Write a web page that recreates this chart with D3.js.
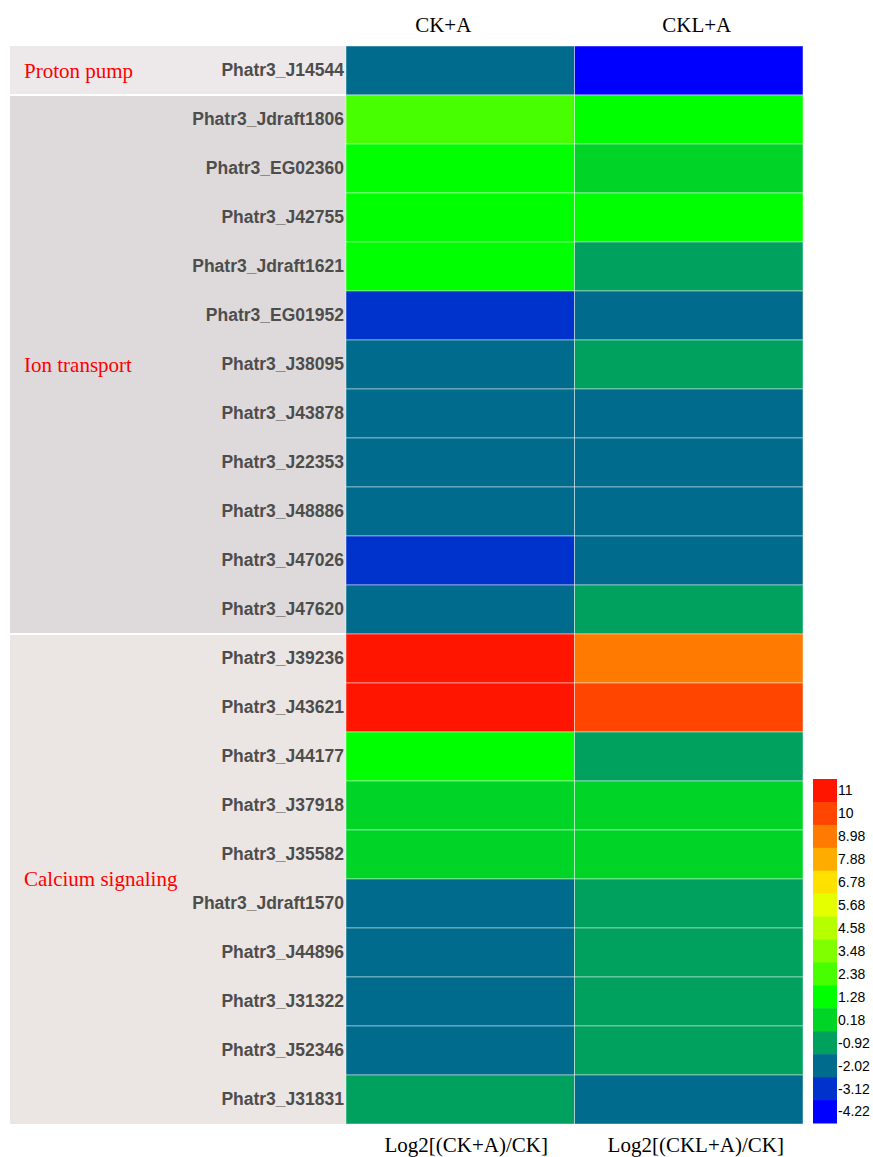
<!DOCTYPE html>
<html>
<head>
<meta charset="utf-8">
<script src="https://cdn.jsdelivr.net/npm/d3@7"></script>
<style>
  html, body { margin: 0; padding: 0; background: #ffffff; }
  svg { display: block; }
</style>
</head>
<body>
<svg id="chart" width="873" height="1157"></svg>
<script>
// Genes (rows), top to bottom
const genes = [
  "Phatr3_J14544",
  "Phatr3_Jdraft1806", "Phatr3_EG02360", "Phatr3_J42755", "Phatr3_Jdraft1621",
  "Phatr3_EG01952", "Phatr3_J38095", "Phatr3_J43878", "Phatr3_J22353",
  "Phatr3_J48886", "Phatr3_J47026", "Phatr3_J47620",
  "Phatr3_J39236", "Phatr3_J43621", "Phatr3_J44177", "Phatr3_J37918",
  "Phatr3_J35582", "Phatr3_Jdraft1570", "Phatr3_J44896", "Phatr3_J31322",
  "Phatr3_J52346", "Phatr3_J31831"
];

// Treatments (columns)
const treatments = ["CK+A", "CKL+A"];
const ratioLabels = ["Log2[(CK+A)/CK]", "Log2[(CKL+A)/CK]"];

// Log2 fold change per gene
const valuesCKA = [
  -1.6,
  2.6, 1.6, 1.9, 1.7, -2.6, -1.4, -1.7, -1.5, -1.6, -2.4, -1.3,
  11.2, 11.4, 1.5, 0.6, 0.5, -1.5, -1.6, -1.7, -1.8, -0.5
];
const valuesCKLA = [
  -4.5,
  1.5, 0.7, 1.4, -0.4, -1.3, -0.5, -1.5, -1.8, -1.2, -1.6, -0.3,
  9.1, 10.2, -0.2, 0.8, 0.9, -0.6, -0.5, -0.4, -0.6, -1.9
];

// Functional groups: name, first row, last row
const groupNames = ["Proton pump", "Ion transport", "Calcium signaling"];
const groupStart = [0, 1, 12];
const groupEnd = [0, 11, 21];
const groupFills = ["#ede9ea", "#dedadb", "#ebe5e3"];

// Colour key: bin labels (low to high) and colours
const legendTicks = [-4.22, -3.12, -2.02, -0.92, 0.18, 1.28, 2.38, 3.48, 4.58, 5.68, 6.78, 7.88, 8.98, 10, 11];
const legendColors = [
  "#0000ff", "#0033cc", "#006b8c", "#00a05e", "#00d426",
  "#00ff00", "#48ff00", "#7fff00", "#b5ff00", "#e6ff00",
  "#ffe100", "#ffac00", "#ff7a00", "#ff4500", "#ff1500"
];

const svg = d3.select("#chart");

const color = d3.scaleThreshold()
  .domain(legendTicks.slice(1))
  .range(legendColors);

const x = d3.scaleBand().domain(treatments).range([346, 803]);
const y = d3.scaleBand().domain(genes).range([46, 1124]);

// Group panels behind the gene labels
const panelLeft = 10;
const groups = groupNames.map((name, i) => ({
  name,
  y0: y(genes[groupStart[i]]),
  y1: y(genes[groupEnd[i]]) + y.bandwidth(),
  fill: groupFills[i]
}));

svg.append("g").selectAll("rect")
  .data(groups)
  .join("rect")
  .attr("x", panelLeft)
  .attr("y", (d, i) => d.y0 + (i > 0 ? 1 : 0))
  .attr("width", x.range()[0] - panelLeft)
  .attr("height", (d, i) => d.y1 - d.y0 - (i > 0 ? 1 : 0) - (i < groups.length - 1 ? 1 : 0))
  .attr("fill", d => d.fill);

svg.append("g").selectAll("text")
  .data(groups)
  .join("text")
  .attr("x", 24)
  .attr("y", d => (d.y0 + d.y1) / 2)
  .attr("dy", "0.35em")
  .attr("font-family", "'Liberation Serif', 'Times New Roman', serif")
  .attr("font-size", 21)
  .attr("fill", "#ff0000")
  .text(d => d.name);

// Heatmap cells
const cells = [];
genes.forEach((g, i) => {
  cells.push({ gene: g, treatment: treatments[0], value: valuesCKA[i] });
  cells.push({ gene: g, treatment: treatments[1], value: valuesCKLA[i] });
});

svg.append("g").selectAll("rect")
  .data(cells)
  .join("rect")
  .attr("x", d => x(d.treatment))
  .attr("y", d => y(d.gene))
  .attr("width", x.bandwidth())
  .attr("height", y.bandwidth())
  .attr("fill", d => color(d.value))
  .attr("stroke", "rgba(255,255,255,0.45)")
  .attr("stroke-width", 1);

// Gene labels
const yAxis = d3.axisLeft(y).tickSize(0).tickPadding(2);
const yg = svg.append("g")
  .attr("transform", `translate(${x.range()[0]},0)`)
  .call(yAxis);
yg.select(".domain").remove();
yg.selectAll("text")
  .attr("font-family", "'Liberation Sans', Arial, sans-serif")
  .attr("font-weight", "bold")
  .attr("font-size", 17.5)
  .attr("fill", "#4d4d4d");

// Column headers and bottom labels
const headerShift = [-17, 8];
const footerShift = [6, 7];
svg.append("g").selectAll("text")
  .data(treatments)
  .join("text")
  .attr("x", (d, i) => x(d) + x.bandwidth() / 2 + headerShift[i])
  .attr("y", 32)
  .attr("text-anchor", "middle")
  .attr("font-family", "'Liberation Serif', 'Times New Roman', serif")
  .attr("font-size", 21)
  .attr("fill", "#000")
  .text(d => d);

svg.append("g").selectAll("text")
  .data(ratioLabels)
  .join("text")
  .attr("x", (d, i) => x(treatments[i]) + x.bandwidth() / 2 + footerShift[i])
  .attr("y", 1152)
  .attr("text-anchor", "middle")
  .attr("font-family", "'Liberation Serif', 'Times New Roman', serif")
  .attr("font-size", 21)
  .attr("fill", "#000")
  .text(d => d);

// Colour key
const legendX = 813;
const legendW = 24;
const legendOrder = legendTicks.map((t, i) => ({ tick: t, color: legendColors[i] })).reverse();
const ly = d3.scaleBand()
  .domain(legendOrder.map(d => d.tick))
  .range([779, 1123]);

const lg = svg.append("g");
lg.selectAll("rect")
  .data(legendOrder)
  .join("rect")
  .attr("x", legendX)
  .attr("y", d => ly(d.tick))
  .attr("width", legendW)
  .attr("height", ly.bandwidth() + 0.5)
  .attr("fill", d => d.color);

lg.selectAll("text")
  .data(legendOrder)
  .join("text")
  .attr("x", legendX + legendW + 1)
  .attr("y", d => ly(d.tick) + ly.bandwidth() / 2)
  .attr("dy", "0.35em")
  .attr("font-family", "'Liberation Sans', Arial, sans-serif")
  .attr("font-size", 14)
  .attr("fill", "#000")
  .text(d => d.tick);
</script>
</body>
</html>
